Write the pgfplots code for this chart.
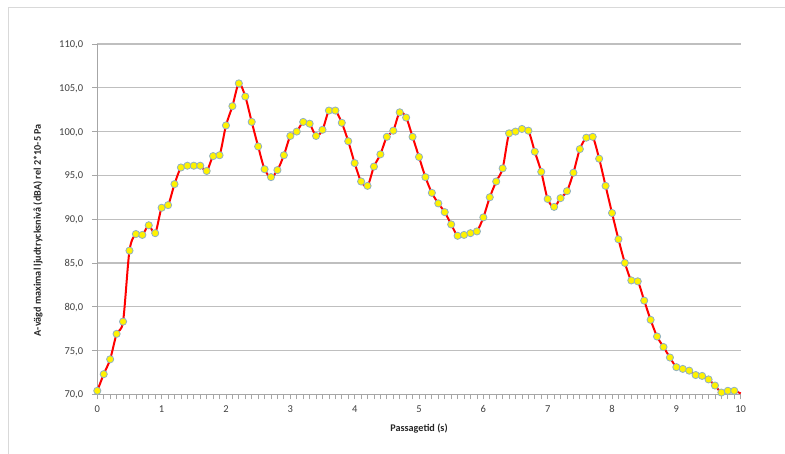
\documentclass[border=0pt]{standalone}
\usepackage{pgfplots}
\usepackage{pgfplotstable}
\pgfplotsset{compat=1.18}
\usepackage{fontspec}
\setmainfont{Carlito}
\definecolor{gridgray}{HTML}{BFBFBF}
\definecolor{axgray}{HTML}{A6A6A6}
\definecolor{framegray}{HTML}{D9D9D9}
\definecolor{txtgray}{HTML}{404040}
\definecolor{mkedge}{HTML}{8FB0C4}
\pgfplotstableread{
x y
0.0 70.4
0.1 72.3
0.2 74.0
0.3 76.9
0.4 78.3
0.5 86.4
0.6 88.3
0.7 88.2
0.8 89.3
0.9 88.4
1.0 91.3
1.1 91.6
1.2 94.0
1.3 95.9
1.4 96.1
1.5 96.1
1.6 96.1
1.7 95.5
1.8 97.2
1.9 97.3
2.0 100.7
2.1 102.9
2.2 105.5
2.3 104.0
2.4 101.1
2.5 98.3
2.6 95.7
2.7 94.8
2.8 95.6
2.9 97.3
3.0 99.5
3.1 100.0
3.2 101.1
3.3 100.9
3.4 99.5
3.5 100.2
3.6 102.4
3.7 102.4
3.8 101.0
3.9 98.9
4.0 96.4
4.1 94.3
4.2 93.8
4.3 96.0
4.4 97.4
4.5 99.4
4.6 100.1
4.7 102.2
4.8 101.6
4.9 99.4
5.0 97.1
5.1 94.8
5.2 93.0
5.3 91.8
5.4 90.8
5.5 89.4
5.6 88.1
5.7 88.2
5.8 88.4
5.9 88.6
6.0 90.2
6.1 92.5
6.2 94.3
6.3 95.8
6.4 99.8
6.5 100.0
6.6 100.3
6.7 100.1
6.8 97.7
6.9 95.4
7.0 92.3
7.1 91.4
7.2 92.4
7.3 93.2
7.4 95.3
7.5 98.0
7.6 99.3
7.7 99.4
7.8 96.9
7.9 93.8
8.0 90.7
8.1 87.7
8.2 85.0
8.3 83.0
8.4 82.9
8.5 80.7
8.6 78.5
8.7 76.6
8.8 75.4
8.9 74.2
9.0 73.1
9.1 72.9
9.2 72.7
9.3 72.2
9.4 72.1
9.5 71.7
9.6 71.0
9.7 70.2
9.8 70.4
9.9 70.4
10.0 70.1
}\datatable
\begin{document}
\begin{tikzpicture}[x=1pt,y=1pt]
\path[use as bounding box] (0,0) rectangle (785,454);
\draw[framegray, line width=1.3pt] (8.3,0) -- (8.3,446.3) -- (785,446.3);
\begin{axis}[
  at={(97.3pt,59.7pt)}, anchor=south west,
  scale only axis, width=643.4pt, height=350.3pt,
  xmin=0, xmax=10, ymin=70, ymax=110,
  clip=false,
  axis lines=left,
  axis line style={-, draw=axgray, line width=1pt},
  xtick={0,1,...,10},
  minor x tick num=9,
  ytick={70,75,...,110},
  tick align=outside,
  major tick length=5pt, minor tick length=5pt,
  tick style={draw=axgray, line width=0.8pt},
  ymajorgrids,
  major grid style={draw=gridgray, line width=1.2pt},
  yticklabel={\pgfmathprintnumber[fixed,fixed zerofill,precision=1,use comma,assume math mode=true]{\tick}},
  xticklabel={\pgfmathprintnumber[assume math mode=true]{\tick}},
  yticklabel style={font=\fontsize{10.5}{12}\selectfont, text=txtgray, anchor=base east, inner sep=0pt, xshift=-9pt, yshift=-3.5pt},
  xticklabel style={font=\fontsize{10.5}{12}\selectfont, text=txtgray, anchor=base, inner sep=0pt, yshift=-13pt},
  xlabel={Passagetid (s)},
  ylabel={A-vägd maximal ljudtrycksnivå (dBA) rel 2*10-5 Pa},
  xlabel style={font=\bfseries\fontsize{10.2}{12}\selectfont, text=black!85, at={(rel axis cs:0.5,0)}, anchor=center, yshift=-34pt},
  ylabel style={font=\bfseries\fontsize{10.2}{12}\selectfont, text=black!85, at={(rel axis cs:0,0.5)}, anchor=center, yshift=59.3pt, xshift=-11pt},
]
\addplot[red, line width=2pt, smooth, no marks] table[x=x,y=y] {\datatable};
\addplot[only marks, mark=*, mark size=3.6pt, mark options={fill=yellow, draw=mkedge, line width=0.8pt}, restrict x to domain=0:9.95] table[x=x,y=y] {\datatable};
\end{axis}
\end{tikzpicture}
\end{document}
